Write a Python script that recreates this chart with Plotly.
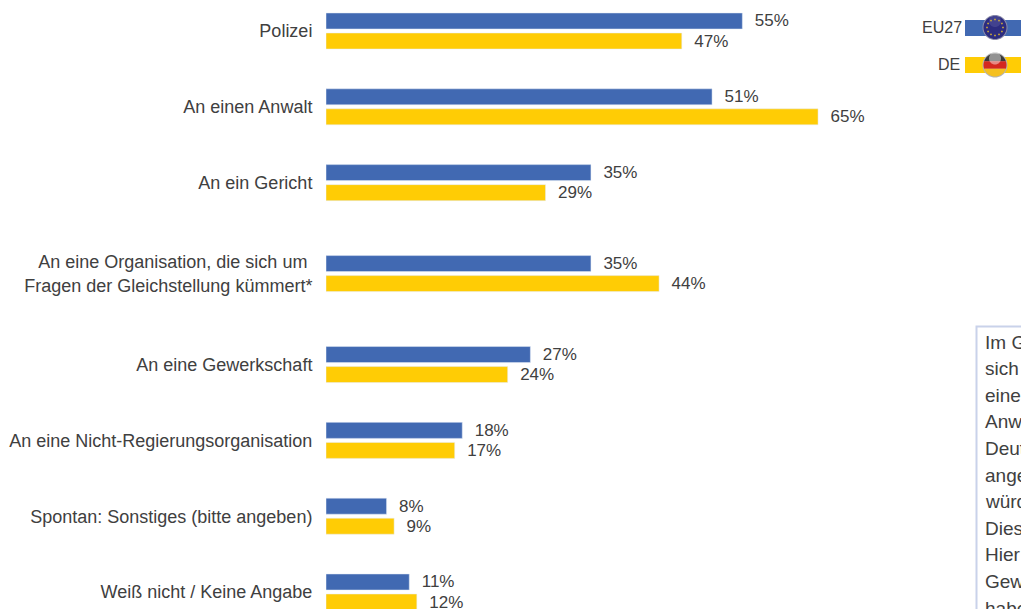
import numpy as np
import plotly.graph_objects as go

categories = ["Polizei", "An einen Anwalt", "An ein Gericht",
              "An eine Organisation, die sich um <br>Fragen der Gleichstellung kümmert*",
              "An eine Gewerkschaft", "An eine Nicht-Regierungsorganisation",
              "Spontan: Sonstiges (bitte angeben)", "Weiß nicht / Keine Angabe"]
eu27 = [55, 51, 35, 35, 27, 18, 8, 11]
de = [47, 65, 29, 44, 24, 17, 9, 12]
series_names = ["EU27", "DE"]
row_gaps = [1, 1, 1.2, 1.2, 1, 1, 1]
box_lines = ["Im Gegensatz", "sich", "einen", "Anwalt", "Deutschland", "angeben",
             "würden", "Dies", "Hier", "Gewerkschaft", "haben"]

W, H = 1021, 609
BLUE, YELLOW = "#4169B2", "#FFCC05"
FONT = "Liberation Sans, Arial, sans-serif"
FS = 18
INK = "#404040"
rows = np.concatenate([[0], np.cumsum(row_gaps)])
px_x = lambda x: x / W
px_y = lambda y: 1 - y / H
pitch = 75.8

fig = go.Figure()
for name, vals, col in zip(series_names, [eu27, de], [BLUE, YELLOW]):
    fig.add_bar(y=rows, x=vals, orientation="h", name=name, marker_color=col,
                text=[f"\u00a0\u00a0{v}%" for v in vals], textposition="outside",
                constraintext="none",
                textfont=dict(family=FONT, size=17, color=INK), cliponaxis=False,
                showlegend=False)


def disc(cx, cy, r, y0=-1.0, y1=1.0, n=48):
    a0, a1 = np.arcsin(y0), np.arcsin(y1)
    t = np.linspace(a0, a1, n)
    xs = np.concatenate([np.cos(t), -np.cos(t[::-1])]) * r + cx
    ys = np.concatenate([np.sin(t), np.sin(t[::-1])]) * r + cy
    return "M " + " L ".join(f"{px_x(a):.5f},{px_y(b):.5f}" for a, b in zip(xs, ys)) + " Z"


shapes = []
def add_path(path, fill, line="rgba(0,0,0,0)", w=0):
    shapes.append(dict(type="path", xref="paper", yref="paper", path=path, fillcolor=fill,
                       line=dict(color=line, width=w), layer="above"))


def add_rect(x0, y0, x1, y1, fill, line=None, w=0):
    shapes.append(dict(type="rect", xref="paper", yref="paper", x0=px_x(x0), x1=px_x(x1),
                       y0=px_y(y0), y1=px_y(y1), fillcolor=fill,
                       line=dict(color=line or "rgba(0,0,0,0)", width=w), layer="above"))


# legend keys
add_rect(965, 20, 1022, 36, BLUE)
add_rect(965, 57, 1022, 73, YELLOW)
add_path(disc(995, 27.5, 12.5), "#8d8da8")
add_path(disc(995, 27.5, 11.5), "#2c2c80")
add_path(disc(995, 21, 6, -1, 1), "rgba(120,120,180,0.3)")
for k in range(12):
    t = k * np.pi / 6
    add_path(disc(995 + 8 * np.cos(t), 27.5 + 8 * np.sin(t), 0.9), "#c9a83a")
add_path(disc(995, 65, 12.5), "#b5b5b5")
add_path(disc(995, 65, 11.5, -1, -0.33), "#3a3a3a")
add_path(disc(995, 65, 11.5, -0.33, 0.33), "#d4281f")
add_path(disc(995, 65, 11.5, 0.33, 1), "#f5c020")
add_path(disc(995, 58.5, 6, -1, 1), "rgba(255,255,255,0.45)")
# text box
add_rect(976.5, 326.5, 1030, 640, "white", "#c9d2ea", 2)

annotations = [
    dict(text="EU27", x=px_x(964), y=px_y(27), xref="paper", yref="paper", xanchor="right",
         yanchor="middle", showarrow=False, font=dict(family=FONT, size=16, color=INK)),
    dict(text="DE", x=px_x(962), y=px_y(65), xref="paper", yref="paper", xanchor="right",
         yanchor="middle", showarrow=False, font=dict(family=FONT, size=16, color=INK)),
]
for i, line in enumerate(box_lines):
    annotations.append(dict(text=line, x=px_x(983), y=px_y(342 + 26.6 * i), xref="paper",
                            yref="paper", xanchor="left", yanchor="middle", align="left",
                            showarrow=False, font=dict(family=FONT, size=19, color=INK)))

fig.update_layout(
    width=W, height=H, margin=dict(l=0, r=0, t=0, b=0, pad=0), autosize=False,
    paper_bgcolor="white", plot_bgcolor="white", barmode="group", bargap=0.472, bargroupgap=0.2,
    shapes=shapes, annotations=annotations, showlegend=False,
    xaxis=dict(domain=[326 / W, 1], range=[0, (W - 326) / 7.57], visible=False, automargin=False),
    yaxis=dict(range=[7.4 + 17 / pitch, -31 / pitch], tickmode="array", tickvals=rows,
               ticktext=categories, ticks="outside", ticklen=9, tickcolor="rgba(0,0,0,0)",
               showline=False, showgrid=False, zeroline=False, anchor="x", automargin=False,
               tickfont=dict(family=FONT, size=FS, color=INK)),
)
fig.write_html("out.html", config=dict(displayModeBar=False),
               post_script="document.body.style.margin='0';document.body.style.overflow='hidden';")
